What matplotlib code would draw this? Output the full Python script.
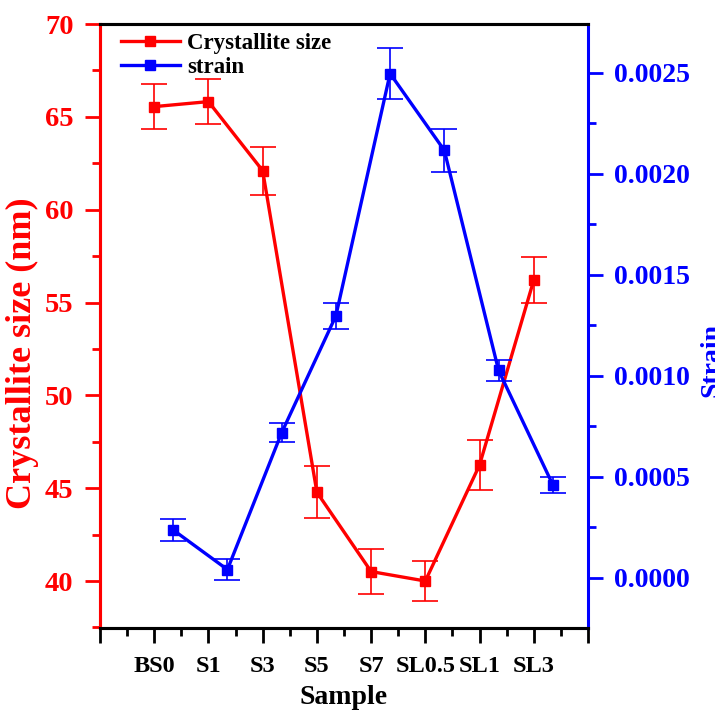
import numpy as np
import matplotlib
matplotlib.use("Agg")
import matplotlib.pyplot as plt
from matplotlib.ticker import MultipleLocator, FixedLocator, FormatStrFormatter
from matplotlib.lines import Line2D

# Data
samples = ["BS0", "S1", "S3", "S5", "S7", "SL0.5", "SL1", "SL3"]
crystallite_size = [65.55, 65.82, 62.10, 44.78, 40.51, 40.00, 46.25, 56.21]
crystallite_err = [1.22, 1.22, 1.29, 1.39, 1.21, 1.09, 1.35, 1.24]
strain = [0.000237, 0.000041, 0.000718, 0.001296, 0.002495, 0.002115, 0.001027, 0.000461]
strain_err = [0.000053, 0.000050, 0.000047, 0.000065, 0.000125, 0.000107, 0.000051, 0.000040]

plt.rcParams["font.family"] = ["Liberation Serif", "DejaVu Serif"]
plt.rcParams["font.weight"] = "bold"

fig = plt.figure(figsize=(7.15, 7.15), dpi=100)
ax = fig.add_axes([100 / 715, 1 - 628 / 715, 488 / 715, 604 / 715])
ax2 = ax.twinx()

x_red = np.arange(1, len(samples) + 1)
x_blue = x_red + 0.35

ax.errorbar(x_red, crystallite_size, yerr=crystallite_err, color="#ff0000",
            marker="s", markersize=7, linewidth=2.4, elinewidth=1.2,
            capsize=9.5, capthick=1.2)
ax2.errorbar(x_blue, strain, yerr=strain_err, color="#0000ff",
             marker="s", markersize=7, linewidth=2.4, elinewidth=1.2,
             capsize=9.5, capthick=1.2)

ax.set_xlim(0, 9)
ax.set_ylim(37.47, 70)
ax2.set_ylim(-0.000248, 0.00274)

ax.xaxis.set_major_locator(FixedLocator(range(10)))
ax.set_xticklabels([""] + samples + [""])
ax.xaxis.set_minor_locator(MultipleLocator(0.5))
ax.yaxis.set_major_locator(MultipleLocator(5))
ax.yaxis.set_minor_locator(MultipleLocator(2.5))
ax2.yaxis.set_major_locator(MultipleLocator(0.0005))
ax2.yaxis.set_minor_locator(MultipleLocator(0.00025))
ax2.yaxis.set_major_formatter(FormatStrFormatter("%.4f"))

# spines
for a in (ax, ax2):
    for s in a.spines.values():
        s.set_linewidth(2.2)
ax2.spines["left"].set_color("#ff0000")
ax2.spines["right"].set_color("#0000ff")
ax2.spines["top"].set_color("black")
ax2.spines["bottom"].set_color("black")
ax.spines["left"].set_color("#ff0000")
ax.spines["right"].set_visible(False)

ax.tick_params(axis="x", which="major", direction="out", length=11, width=2,
               labelsize=17.5, pad=9, top=False)
ax.tick_params(axis="x", which="minor", direction="out", length=6, width=2, top=False)
ax.tick_params(axis="y", which="major", direction="out", length=11, width=2,
               labelsize=20.5, colors="#ff0000", pad=8)
ax.tick_params(axis="y", which="minor", direction="out", length=6, width=2,
               colors="#ff0000")
ax2.tick_params(axis="y", which="major", direction="out", length=11, width=2,
                labelsize=20, colors="#0000ff", pad=8)
ax2.tick_params(axis="y", which="minor", direction="out", length=6, width=2,
                colors="#0000ff")

ax.set_xlabel("Sample", fontsize=20, fontweight="bold", labelpad=6)
ax.set_ylabel("Crystallite size (nm)", fontsize=26, fontweight="bold", color="#ff0000")
ax.yaxis.set_label_coords(-0.124, 0.455)
fig.text(700 / 715, 1 - 360 / 715, "Strain", rotation=90, ha="left", va="center",
         fontsize=20, fontweight="bold", color="#0000ff")

handles = [Line2D([], [], color="#ff0000", marker="s", markersize=7, linewidth=2.4),
           Line2D([], [], color="#0000ff", marker="s", markersize=7, linewidth=2.4)]
ax.legend(handles, ["Crystallite size", "strain"], loc="upper left",
          bbox_to_anchor=(0.0, 1.02), frameon=False, fontsize=16.5,
          handlelength=2.6, handletextpad=0.3, labelspacing=0.15)

plt.savefig("out.png", dpi=100)
